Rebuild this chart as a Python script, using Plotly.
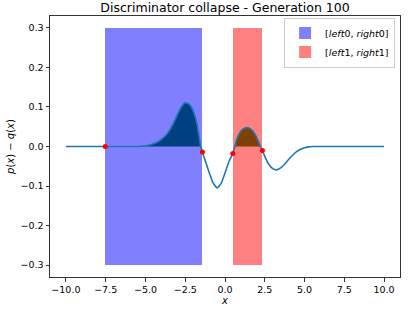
import plotly.graph_objects as go

# curve p(x) - q(x)
xs = [-10, -9, -8, -7, -6, -5.5, -5.25, -5.0, -4.75, -4.5, -4.25, -4.0, -3.75, -3.5,
      -3.25, -3.0, -2.75, -2.5, -2.25, -2.0, -1.75, -1.53, -1.42, -1.25, -1.0, -0.75,
      -0.5, -0.25, 0.0, 0.25, 0.49, 0.62, 0.75, 1.0, 1.25, 1.5, 1.75, 2.0, 2.23, 2.35,
      2.5, 2.75, 3.0, 3.25, 3.5, 3.75, 4.0, 4.25, 4.5, 4.75, 5.0, 5.25, 5.5, 6, 7, 8, 9, 10]
ys = [0, 0, 0, 0, 0, 0.000, 0.001, 0.002, 0.004, 0.007, 0.011, 0.018, 0.027, 0.040,
      0.058, 0.080, 0.100, 0.111, 0.107, 0.090, 0.055, 0.0, -0.014, -0.035, -0.065, -0.092,
      -0.105, -0.094, -0.067, -0.038, -0.018, 0.0, 0.019, 0.039, 0.047, 0.047, 0.039, 0.022,
      0.0, -0.010, -0.025, -0.045, -0.056, -0.059, -0.054, -0.045, -0.033, -0.022, -0.013,
      -0.007, -0.003, -0.001, 0.0, 0, 0, 0, 0, 0]

# interval bounds
left0, right0 = -7.53, -1.42
left1, right1 = 0.49, 2.35
band_low, band_high = -0.3, 0.3

# boundary points
pts_x = [left0, right0, left1, right1]
pts_y = [0.0, -0.014, -0.018, -0.010]

legend_names = ["[<i>left</i>0, <i>right</i>0]", "[<i>left</i>1, <i>right</i>1]"]

xticks = [-10, -7.5, -5, -2.5, 0, 2.5, 5, 7.5, 10]
xticklabels = ["\u221210.0", "\u22127.5", "\u22125.0", "\u22122.5", "0.0", "2.5", "5.0", "7.5", "10.0"]
yticks = [-0.3, -0.2, -0.1, 0.0, 0.1, 0.2, 0.3]
yticklabels = ["\u22120.3", "\u22120.2", "\u22120.1", "0.0", "0.1", "0.2", "0.3"]

FONT = "DejaVu Sans"

fig = go.Figure()

for (l, r, col, name) in [(left0, right0, "#8080ff", legend_names[0]),
                          (left1, right1, "#ff8080", legend_names[1])]:
    fig.add_trace(go.Bar(x=[(l + r) / 2], y=[band_high - band_low], base=[band_low],
                         width=[r - l], marker=dict(color=col, line=dict(width=0)),
                         name=name, showlegend=True, hoverinfo="skip"))

def sub(l, r):
    fx, fy = [], []
    for x, y in zip(xs, ys):
        if l <= x <= r and y >= 0:
            fx.append(x)
            fy.append(y)
    return fx, fy

fx0, fy0 = sub(left0, right0)
fx1, fy1 = sub(left1, right1)
fig.add_trace(go.Scatter(x=fx0, y=fy0, mode="lines", fill="tozeroy", hoverinfo="skip",
                         line=dict(width=0), fillcolor="#004080", showlegend=False))
fig.add_trace(go.Scatter(x=fx1, y=fy1, mode="lines", fill="tozeroy", hoverinfo="skip",
                         line=dict(width=0), fillcolor="#804000", showlegend=False))

fig.add_trace(go.Scatter(x=xs, y=ys, mode="lines", hoverinfo="skip",
                         line=dict(color="#1f77b4", width=1.6, shape="spline", smoothing=0.4),
                         showlegend=False))
fig.add_trace(go.Scatter(x=pts_x, y=pts_y, mode="markers", hoverinfo="skip",
                         marker=dict(color="red", size=5), showlegend=False))

axis_common = dict(showline=True, linecolor="#333333", linewidth=1, mirror=True,
                   ticks="outside", ticklen=3.5, tickcolor="#333333", tickwidth=1,
                   showgrid=False, zeroline=False, automargin=False,
                   tickfont=dict(family=FONT, size=9.5, color="black"))

fig.update_layout(
    width=419, height=315,
    margin=dict(l=50, r=19, t=16, b=38),
    plot_bgcolor="white", paper_bgcolor="white",
    barmode="overlay", bargap=0,
    title=dict(text="Discriminator collapse - Generation 100", x=0.537, xanchor="center",
               y=0.99, yanchor="top", automargin=False,
               font=dict(family=FONT, size=12.5, color="black")),
    xaxis=dict(range=[-11, 11], tickvals=xticks, ticktext=xticklabels,
               title=dict(text="<i>x</i>", standoff=2,
                          font=dict(family=FONT, size=10, color="black")),
               **axis_common),
    yaxis=dict(range=[-0.33, 0.33], tickvals=yticks, ticktext=yticklabels,
               title=dict(text="<i>p</i>(<i>x</i>) \u2212 <i>q</i>(<i>x</i>)", standoff=4,
                          font=dict(family=FONT, size=10, color="black")),
               **axis_common),
    legend=dict(x=0.986, y=0.994, xanchor="right", yanchor="top",
                bgcolor="white", bordercolor="#cccccc", borderwidth=1,
                font=dict(family=FONT, size=9.5, color="black"),
                tracegroupgap=0, itemsizing="constant"),
)

fig.write_html("out.html", config={"displayModeBar": False},
               post_script="document.body.style.margin='0';")
